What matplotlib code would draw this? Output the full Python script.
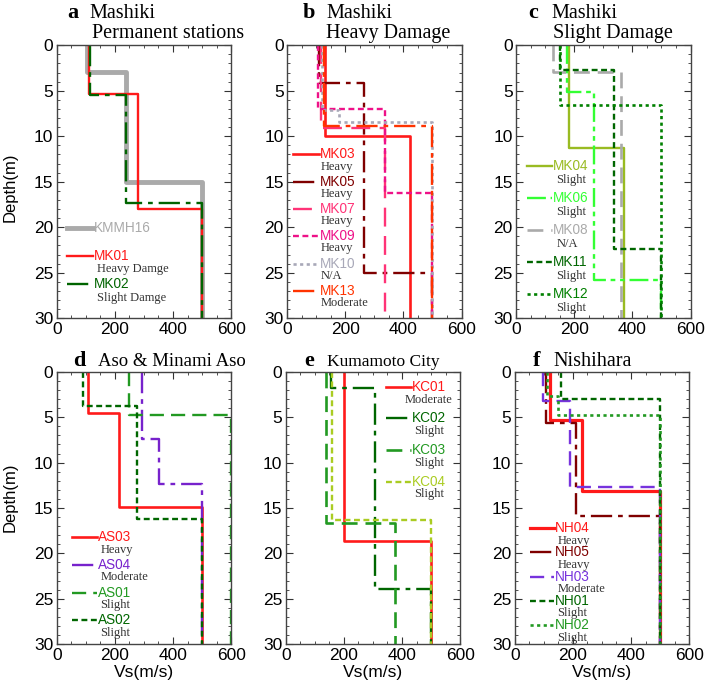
import numpy as np
import matplotlib
matplotlib.use('Agg')
import matplotlib.pyplot as plt
from matplotlib.ticker import MultipleLocator

plt.rcParams['font.family'] = ['Liberation Sans', 'DejaVu Sans']
SERIF = ['Liberation Serif', 'DejaVu Serif']

# ---- datos: Vs de cada capa y profundidades de los limites (m) ----
a_names = ['KMMH16', 'MK01', 'MK02']
a_status = ['', 'Heavy Damge', 'Slight Damge']
a_vs = [[105, 240, 500], [110, 280, 500], [115, 238, 500]]
a_z = [[0, 2.9, 15.0, 30], [0, 5.4, 18.0, 30], [0, 5.5, 17.3, 30]]

b_names = ['MK03', 'MK05', 'MK07', 'MK09', 'MK10', 'MK13']
b_status = ['Heavy', 'Heavy', 'Heavy', 'Heavy', 'N/A', 'Moderate']
b_vs = [[129, 422], [108, 266, 500], [118, 338], [105, 338, 500],
        [121, 179, 500], [126, 500]]
b_z = [[0, 10.0, 30], [0, 4.1, 25.0, 30], [0, 9.1, 30], [0, 7.0, 16.2, 30],
       [0, 7.1, 8.4, 30], [0, 8.9, 30]]

c_names = ['MK04', 'MK06', 'MK08', 'MK11', 'MK12']
c_status = ['Slight', 'Slight', 'N/A', 'Slight', 'Slight']
c_vs = [[181, 371], [175, 268, 500], [127, 361], [152, 337, 500], [150, 500]]
c_z = [[0, 11.3, 30], [0, 5.1, 25.8, 30], [0, 2.9, 30], [0, 2.7, 22.4, 30],
       [0, 6.6, 30]]

d_names = ['AS03', 'AS04', 'AS01', 'AS02']
d_status = ['Heavy', 'Moderate', 'Slight', 'Slight']
d_vs = [[108, 214, 500], [294, 351, 500], [250, 600], [89, 277, 500]]
d_z = [[0, 4.5, 14.9, 30], [0, 7.4, 12.4, 30], [0, 4.8, 30], [0, 3.8, 16.2, 30]]

e_names = ['KC01', 'KC02', 'KC03', 'KC04']
e_status = ['Moderate', 'Slight', 'Slight', 'Slight']
e_vs = [[200, 500], [157, 307, 500], [138, 376], [160, 500]]
e_z = [[0, 18.6, 30], [0, 1.8, 23.9, 30], [0, 16.7, 30], [0, 16.3, 30]]

f_names = ['NH04', 'NH05', 'NH03', 'NH01', 'NH02']
f_status = ['Heavy', 'Heavy', 'Moderate', 'Slight', 'Slight']
f_vs = [[120, 232, 500], [108, 212, 500], [96, 191, 500], [160, 500],
        [111, 148, 500]]
f_z = [[0, 5.3, 13.1, 30], [0, 5.6, 15.9, 30], [0, 3.2, 12.7, 30], [0, 3.0, 30],
       [0, 2.7, 4.8, 30]]

# ---- estilos (color, linea, grosor) ----
SOLID = '-'
DASHDOT = (0, (9, 2.5, 2, 2.5))
DASHED = (0, (6, 3))
LONGDASH = (0, (8, 4))
SHORTDASH = (0, (2.5, 1.5))
DOTTED = (0, (1.2, 1.3))
DASHDOTDOT = (0, (8, 2, 2, 2, 2, 2))

a_sty = [('#aaaaaa', SOLID, 3.5), ('#ff1a1a', SOLID, 1.7), ('#006400', DASHDOT, 1.7)]
b_sty = [('#ff1a1a', SOLID, 1.9), ('#7f0000', DASHDOT, 1.7), ('#ff3377', LONGDASH, 1.7),
         ('#ee1188', SHORTDASH, 1.7), ('#a8a8b8', DOTTED, 1.9), ('#ff3300', DASHDOT, 1.7)]
c_sty = [('#99bb22', SOLID, 1.7), ('#33ff33', DASHDOTDOT, 1.7), ('#aaaaaa', DASHED, 1.9),
         ('#006600', SHORTDASH, 1.7), ('#008000', DOTTED, 1.9)]
d_sty = [('#ff1a1a', SOLID, 1.9), ('#7722cc', DASHDOT, 1.7), ('#229922', DASHED, 1.7),
         ('#006600', SHORTDASH, 1.7)]
e_sty = [('#ff1a1a', SOLID, 1.9), ('#006600', DASHDOT, 1.7), ('#229922', DASHED, 1.9),
         ('#aacc22', SHORTDASH, 1.7)]
f_sty = [('#ff1a1a', SOLID, 2.3), ('#7f0000', DASHDOT, 1.7), ('#7733dd', DASHED, 1.7),
         ('#006600', SHORTDASH, 1.7), ('#229922', DOTTED, 1.9)]


def perfil(vs, z):
    # escalones: cada capa es un tramo vertical entre dos limites
    x = np.repeat(vs, 2)
    y = np.repeat(z, 2)[1:-1]
    return x, y


fig = plt.figure(figsize=(7.09, 6.86), dpi=100)

W = 0.246
paneles = [
    # datos, estilos, [left, bottom, w, h], leyenda (x0, x1, y0, paso, x_estado, dy, ha)
    (a_names, a_status, a_vs, a_z, a_sty, [0.080, 0.536, W, 0.398],
     (0.058, 0.208, 0.33, 0.103, 0.23, 0.048, 'left')),
    (b_names, b_status, b_vs, b_z, b_sty, [0.405, 0.536, W, 0.398],
     (0.035, 0.18, 0.60, 0.1, 0.19, 0.044, 'left')),
    (c_names, c_status, c_vs, c_z, c_sty, [0.728, 0.536, W, 0.398],
     (0.063, 0.206, 0.557, 0.117, 0.23, 0.05, 'left')),
    (d_names, d_status, d_vs, d_z, d_sty, [0.080, 0.061, W, 0.397],
     (0.09, 0.23, 0.393, 0.102, 0.25, 0.046, 'left')),
    (e_names, e_status, e_vs, e_z, e_sty, [0.403, 0.061, W, 0.397],
     (0.574, 0.716, 0.945, 0.116, 0.82, 0.047, 'center')),
    (f_names, f_status, f_vs, f_z, f_sty, [0.726, 0.061, W, 0.397],
     (0.085, 0.226, 0.426, 0.089, 0.245, 0.046, 'left')),
]

ejes = []
for names, status, vs_l, z_l, sty, pos, ley in paneles:
    ax = fig.add_axes(pos)
    ejes.append(ax)
    for vs, z, (col, ls, lw) in zip(vs_l, z_l, sty):
        x, y = perfil(vs, z)
        ax.plot(x, y, color=col, linestyle=ls, linewidth=lw)

    ax.set_xlim(0, 600)
    ax.set_ylim(30, 0)
    ax.xaxis.set_major_locator(MultipleLocator(200))
    ax.xaxis.set_minor_locator(MultipleLocator(50))
    ax.yaxis.set_major_locator(MultipleLocator(5))
    ax.yaxis.set_minor_locator(MultipleLocator(1))
    ax.tick_params(which='both', direction='in', top=True, right=True,
                   labelsize=12.5, color='#333333', pad=2.5)
    ax.tick_params(which='major', length=5)
    ax.tick_params(which='minor', length=2.5)
    for s in ax.spines.values():
        s.set_color('#444444')
        s.set_linewidth(1.0)

    # leyenda dibujada a mano: muestra de linea + nombre + estado
    x0, x1, y0, paso, xs, dy, ha = ley
    for i, (n, st, (col, ls, lw)) in enumerate(zip(names, status, sty)):
        y = y0 - i * paso
        ax.plot([x0, x1], [y, y], transform=ax.transAxes, color=col,
                linestyle=ls, linewidth=lw, clip_on=False)
        ax.text(x1 + 0.005, y, n, transform=ax.transAxes, color=col,
                fontsize=9.8, va='center', ha='left')
        if st:
            ax.text(xs, y - dy, st, transform=ax.transAxes, color='#333333',
                    fontsize=9, va='center', ha=ha, family=SERIF)

ejes[0].set_ylabel('Depth(m)', fontsize=12)
ejes[0].yaxis.set_label_coords(-0.225, 0.48)
ejes[3].set_ylabel('Depth(m)', fontsize=12)
ejes[3].yaxis.set_label_coords(-0.225, 0.54)
for ax in ejes[3:]:
    ax.set_xlabel('Vs(m/s)', fontsize=12.5)
    ax.xaxis.set_label_coords(0.5, -0.075)

# titulos de cada panel (letra en negrita + lugar)
titulos = [
    ('a', 67, 89, 17.5, 'Mashiki', 92, 38, 'Permanent stations', 14.5),
    ('b', 303, 326, 17.5, 'Mashiki', 326, 38, 'Heavy Damage', 14.5),
    ('c', 528, 551, 17.5, 'Mashiki', 553, 38, 'Slight Damage', 14.5),
    ('d', 73, 98, 366, 'Aso & Minami Aso', None, None, '', 13.5),
    ('e', 304, 327, 366, 'Kumamoto City', None, None, '', 12.5),
    ('f', 533, 553, 366, 'Nishihara', None, None, '', 14.5),
]
for let, xl, xt, yb, t1, x2, y2, t2, fs in titulos:
    fig.text(xl / 709, 1 - yb / 686, let, fontsize=16, fontweight='bold',
             family=SERIF, va='baseline', ha='left')
    fig.text(xt / 709, 1 - yb / 686, t1, fontsize=fs, family=SERIF,
             va='baseline', ha='left')
    if t2:
        fig.text(x2 / 709, 1 - y2 / 686, t2, fontsize=fs, family=SERIF,
                 va='baseline', ha='left')

fig.savefig('out.png', dpi=100)
